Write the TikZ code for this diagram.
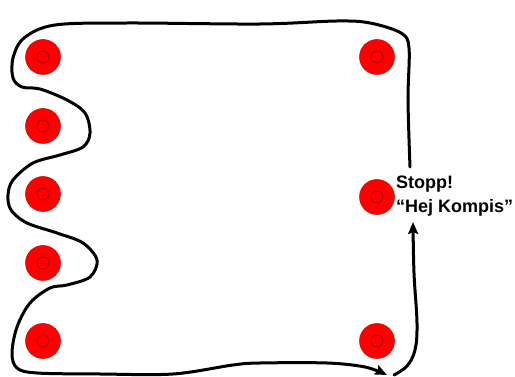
\documentclass[tikz,border=0pt]{standalone}
\usepackage{fontspec}
\setmainfont{Liberation Sans}
\usetikzlibrary{arrows.meta}
\definecolor{cone-red}{HTML}{FF0000}
\definecolor{cone-edge}{HTML}{C80000}
\definecolor{cone-ring}{HTML}{A00000}

\begin{document}
\begin{tikzpicture}[x=1pt, y=-1pt,
      cone/.style={circle, minimum size=35pt, inner sep=0pt, fill=cone-red,
        draw=cone-edge, line width=0.5pt,
        path picture={\draw[cone-ring, line width=0.8pt]
          (path picture bounding box.center) circle (6pt);}},
      track/.style={line width=3pt, line cap=round, line join=round},
      every node/.style={font=\fontsize{18}{23.5}\selectfont\bfseries}]
    \useasboundingbox (0,0) rectangle (515,377);
    \node[cone] (l1) at (43,57) {};
    \node[cone] (l2) at (43,126) {};
    \node[cone] (l3) at (43,194) {};
    \node[cone] (l4) at (43,263) {};
    \node[cone] (l5) at (43,341) {};
    \node[cone] (r1) at (377,57) {};
    \node[cone] (r2) at (377,197) {};
    \node[cone] (r3) at (377,341) {};
    \node[anchor=north west, inner sep=0pt, align=left] (stopp) at (396,176)
          {Stopp!\\“Hej Kompis”};
    \coordinate (start) at (410,167);
    \coordinate (turn) at (387,375);
    \coordinate (goal) at (413,222);
    \draw[track, -{Stealth[length=12pt, width=10pt, inset=2pt]}] plot[smooth, tension=0.55]
          coordinates {(start) (408,100) (409,48) (401,33) (370,23) (337,21)
            (260,24) (127,23) (55,25) (24,38) (13,58) (13,78) (22,87) (40,89)
            (67,100) (85,113) (90,133) (83,147) (60,155) (33,163) (13,180)
            (8,195) (11,210) (27,223) (57,233) (83,243) (97,260) (90,277)
            (67,285) (50,288) (30,303) (17,327) (12,353) (17,368) (37,373)
            (100,374) (173,374) (233,365) (260,363) (327,363) (365,367) (turn)};
    \draw[track, -{Stealth[length=12pt, width=10pt, inset=2pt]}] plot[smooth, tension=0.6]
          coordinates {(394,375) (407,366) (415,350) (417,323) (414,273) (goal)};
  \end{tikzpicture}
\end{document}
